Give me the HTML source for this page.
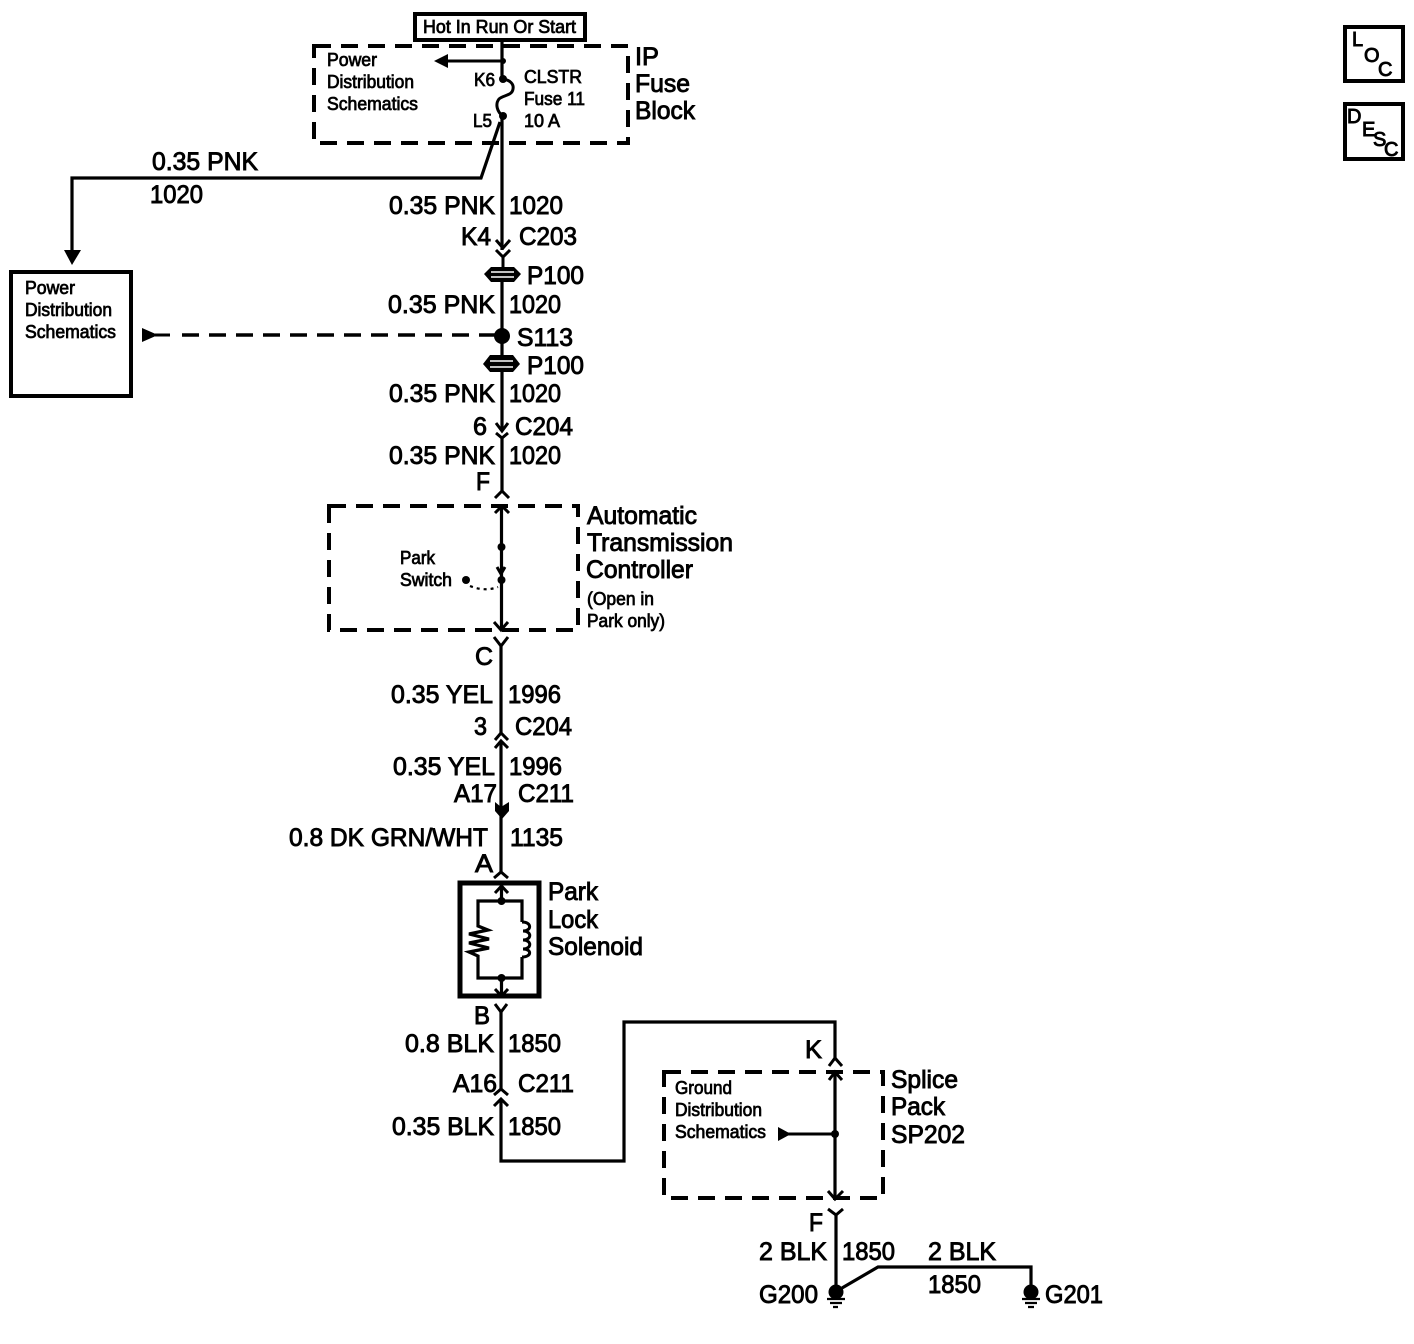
<!DOCTYPE html>
<html><head><meta charset="utf-8"><style>
html,body{margin:0;padding:0;background:#fff}
svg{display:block}
text{font-family:"Liberation Sans",sans-serif;fill:#000;stroke:#000}
.b{font-size:25px;stroke-width:.9}
.s{font-size:18px;stroke-width:.75}
.m{font-size:20px;stroke-width:.9}
.l{fill:none;stroke:#000;stroke-width:3.2;stroke-linejoin:miter}
.t{fill:none;stroke:#000;stroke-width:3}
.d{fill:none;stroke:#000;stroke-width:4;stroke-dasharray:17 10}
.f{fill:#000;stroke:none}
</style></head><body>
<svg width="1414" height="1344" viewBox="0 0 1414 1344" xmlns="http://www.w3.org/2000/svg">
<!-- boxes -->
<rect x="415" y="14" width="170" height="26" fill="none" stroke="#000" stroke-width="4"/>
<rect x="314" y="46" width="314" height="97" class="d"/>
<rect x="11" y="272" width="120" height="124" fill="none" stroke="#000" stroke-width="4"/>
<rect x="329" y="506" width="249" height="124" class="d"/>
<rect x="460" y="883" width="79" height="113" fill="none" stroke="#000" stroke-width="5"/>
<rect x="664" y="1072" width="219" height="126" class="d"/>
<rect x="1345" y="27" width="58" height="54" fill="none" stroke="#000" stroke-width="4"/>
<rect x="1345" y="104" width="58" height="55" fill="none" stroke="#000" stroke-width="4"/>

<!-- top fuse -->
<path class="l" d="M502 40V78"/>
<path class="t" d="M502 61H445"/>
<circle class="f" cx="503" cy="61" r="3"/>
<path class="f" d="M434 61L448 54V68Z"/>
<circle class="f" cx="503" cy="79" r="4"/>
<circle class="f" cx="503" cy="116" r="4"/>
<path class="t" d="M503 79C510 80 514 84 513 89C512 96 503 95 499 99C495 104 497 112 503 116"/>
<path class="l" d="M502 116V250"/>
<path class="l" d="M500 122L481 178H72V254"/>
<path class="f" d="M64 250H81L72 265Z"/>

<!-- C203 -->
<path class="t" d="M496 240L503 248L510 240M496 250L503 257L510 250M503 257V268"/>
<!-- P100 #1 -->
<path class="f" d="M484 274L491 267H514L521 274L514 282H491Z"/>
<path d="M491 272H514M491 277H514" stroke="#fff" stroke-width="1.5"/>
<path class="l" d="M502 282V355"/>
<circle class="f" cx="502" cy="336" r="8"/>
<path class="d" style="stroke-width:3.5;stroke-dasharray:17 10" d="M496 335H172"/>
<path class="t" d="M170 335H155"/>
<path class="f" d="M142 328L158 335L142 342Z"/>
<!-- P100 #2 -->
<path class="f" d="M483 364L490 355H513L520 364L513 372H490Z"/>
<path d="M490 361H513M490 367H513" stroke="#fff" stroke-width="1.5"/>
<path class="l" d="M502 372V431"/>
<!-- C204 pin 6 -->
<path class="t" d="M496 423L502 431L508 423M496 433L502 438L508 433"/>
<path class="l" d="M502 438V491"/>
<path class="t" d="M495 498L502 491L509 498"/>

<!-- ATC -->
<path class="t" d="M495 513L502 506L509 513"/>
<path class="l" d="M501.500 507V628"/>
<circle class="f" cx="501.500" cy="547" r="4"/>
<circle class="f" cx="501.500" cy="580" r="4"/>
<path class="t" d="M497 567L501 574L505 567"/>
<path class="t" d="M494 622L501 630L508 622"/>
<circle class="f" cx="466" cy="580" r="4"/>
<path d="M470 586Q485 592 498 587" fill="none" stroke="#000" stroke-width="2.200" stroke-dasharray="3 4"/>

<path class="t" d="M494 637L501 646L508 637"/>
<path class="l" d="M501 646V733"/>
<path class="t" d="M495 740L501 733L508 740M495 748L501 741L508 748"/>
<path class="l" d="M501 741V872"/>
<path class="f" d="M495 802L501 807L509 802V811L502 819L495 811Z"/>
<path class="t" d="M494 878L501 872L508 878"/>

<!-- solenoid -->
<path class="t" d="M495 893L501.500 886L508 893"/>
<path class="l" d="M501.500 886V901"/>
<circle class="f" cx="501.500" cy="901" r="4"/>
<circle class="f" cx="501.500" cy="978" r="4"/>
<path class="l" d="M501.500 978V996"/>
<path class="t" d="M495 989L501.500 996L508 989"/>
<path class="l" d="M522 922V901H478V926L488 930L469 934L489 939L469 943L489 948L469 952L478 956V978H522V957"/>
<path class="t" d="M522 922C532 922 532 931 523 931C532 931 532 940 523 940C532 940 532 949 523 949C532 949 532 957 522 957"/>

<!-- lower -->
<path class="t" d="M495 1004L501 1012L507 1004"/>
<path class="l" d="M501 1012V1089"/>
<path class="t" d="M494 1095L501 1089L508 1095M494 1106L501 1099L508 1106"/>
<path class="l" d="M501 1099V1161H624V1022H835V1058"/>
<path class="t" d="M829 1066L835 1058L842 1066M829 1080L835 1072L842 1080"/>
<path class="l" d="M835 1073V1198"/>
<circle class="f" cx="835" cy="1134" r="4"/>
<path class="t" d="M835 1134H788"/>
<path class="f" d="M778 1127L791 1134L778 1141Z"/>
<path class="t" d="M828 1191L835 1199L843 1191M828 1209L836 1215L843 1209"/>
<path class="l" d="M836 1215V1286"/>
<path class="l" d="M842 1288L878 1267H1031V1286"/>
<!-- grounds -->
<circle class="f" cx="836" cy="1292" r="7.500"/>
<path d="M827 1299H845M830 1303H842M833 1307H838" stroke="#000" stroke-width="2.200" fill="none"/>
<circle class="f" cx="1031" cy="1292" r="7.500"/>
<path d="M1022 1299H1040M1025 1303H1037M1028 1307H1034" stroke="#000" stroke-width="2.200" fill="none"/>

<!-- small text -->
<text class="s" x="423" y="33" textLength="153" lengthAdjust="spacingAndGlyphs">Hot In Run Or Start</text>
<text class="s" x="327" y="66" textLength="50" lengthAdjust="spacingAndGlyphs">Power</text>
<text class="s" x="327" y="88" textLength="87" lengthAdjust="spacingAndGlyphs">Distribution</text>
<text class="s" x="327" y="110" textLength="91" lengthAdjust="spacingAndGlyphs">Schematics</text>
<text class="s" x="474" y="86" textLength="21" lengthAdjust="spacingAndGlyphs">K6</text>
<text class="s" x="473" y="127" textLength="19" lengthAdjust="spacingAndGlyphs">L5</text>
<text class="s" x="524" y="83" textLength="58" lengthAdjust="spacingAndGlyphs">CLSTR</text>
<text class="s" x="524" y="105" textLength="61" lengthAdjust="spacingAndGlyphs">Fuse 11</text>
<text class="s" x="524" y="127" textLength="36" lengthAdjust="spacingAndGlyphs">10 A</text>
<text class="s" x="25" y="294" textLength="50" lengthAdjust="spacingAndGlyphs">Power</text>
<text class="s" x="25" y="316" textLength="87" lengthAdjust="spacingAndGlyphs">Distribution</text>
<text class="s" x="25" y="338" textLength="91" lengthAdjust="spacingAndGlyphs">Schematics</text>
<text class="s" x="400" y="564" textLength="35" lengthAdjust="spacingAndGlyphs">Park</text>
<text class="s" x="400" y="586" textLength="52" lengthAdjust="spacingAndGlyphs">Switch</text>
<text class="s" x="587" y="605" textLength="67" lengthAdjust="spacingAndGlyphs">(Open in</text>
<text class="s" x="587" y="627" textLength="78" lengthAdjust="spacingAndGlyphs">Park only)</text>
<text class="s" x="675" y="1094" textLength="57" lengthAdjust="spacingAndGlyphs">Ground</text>
<text class="s" x="675" y="1116" textLength="87" lengthAdjust="spacingAndGlyphs">Distribution</text>
<text class="s" x="675" y="1138" textLength="91" lengthAdjust="spacingAndGlyphs">Schematics</text>
<text class="m" x="1352" y="46">L</text>
<text class="m" x="1364" y="62">O</text>
<text class="m" x="1378" y="76">C</text>
<text class="m" x="1347" y="123">D</text>
<text class="m" x="1362" y="136">E</text>
<text class="m" x="1373" y="146">S</text>
<text class="m" x="1384" y="156">C</text>

<!-- large text -->
<text class="b" x="635" y="65" textLength="24" lengthAdjust="spacingAndGlyphs">IP</text>
<text class="b" x="635" y="92" textLength="55" lengthAdjust="spacingAndGlyphs">Fuse</text>
<text class="b" x="635" y="119" textLength="60" lengthAdjust="spacingAndGlyphs">Block</text>
<text class="b" x="152" y="170" textLength="106" lengthAdjust="spacingAndGlyphs">0.35 PNK</text>
<text class="b" x="150" y="203" textLength="53" lengthAdjust="spacingAndGlyphs">1020</text>
<text class="b" x="389" y="214" textLength="106" lengthAdjust="spacingAndGlyphs">0.35 PNK</text>
<text class="b" x="509" y="214" textLength="54" lengthAdjust="spacingAndGlyphs">1020</text>
<text class="b" x="461" y="245" textLength="30" lengthAdjust="spacingAndGlyphs">K4</text>
<text class="b" x="519" y="245" textLength="58" lengthAdjust="spacingAndGlyphs">C203</text>
<text class="b" x="527" y="284" textLength="57" lengthAdjust="spacingAndGlyphs">P100</text>
<text class="b" x="388" y="313" textLength="107" lengthAdjust="spacingAndGlyphs">0.35 PNK</text>
<text class="b" x="509" y="313" textLength="52" lengthAdjust="spacingAndGlyphs">1020</text>
<text class="b" x="517" y="346" textLength="56" lengthAdjust="spacingAndGlyphs">S113</text>
<text class="b" x="527" y="374" textLength="57" lengthAdjust="spacingAndGlyphs">P100</text>
<text class="b" x="389" y="402" textLength="106" lengthAdjust="spacingAndGlyphs">0.35 PNK</text>
<text class="b" x="509" y="402" textLength="52" lengthAdjust="spacingAndGlyphs">1020</text>
<text class="b" x="473" y="435" textLength="14" lengthAdjust="spacingAndGlyphs">6</text>
<text class="b" x="515" y="435" textLength="58" lengthAdjust="spacingAndGlyphs">C204</text>
<text class="b" x="389" y="464" textLength="106" lengthAdjust="spacingAndGlyphs">0.35 PNK</text>
<text class="b" x="509" y="464" textLength="52" lengthAdjust="spacingAndGlyphs">1020</text>
<text class="b" x="476" y="490" textLength="14" lengthAdjust="spacingAndGlyphs">F</text>
<text class="b" x="587" y="524" textLength="110" lengthAdjust="spacingAndGlyphs">Automatic</text>
<text class="b" x="587" y="551" textLength="146" lengthAdjust="spacingAndGlyphs">Transmission</text>
<text class="b" x="586" y="578" textLength="107" lengthAdjust="spacingAndGlyphs">Controller</text>
<text class="b" x="475" y="665" textLength="18" lengthAdjust="spacingAndGlyphs">C</text>
<text class="b" x="391" y="703" textLength="102" lengthAdjust="spacingAndGlyphs">0.35 YEL</text>
<text class="b" x="508" y="703" textLength="53" lengthAdjust="spacingAndGlyphs">1996</text>
<text class="b" x="474" y="735" textLength="13" lengthAdjust="spacingAndGlyphs">3</text>
<text class="b" x="515" y="735" textLength="57" lengthAdjust="spacingAndGlyphs">C204</text>
<text class="b" x="393" y="775" textLength="102" lengthAdjust="spacingAndGlyphs">0.35 YEL</text>
<text class="b" x="509" y="775" textLength="53" lengthAdjust="spacingAndGlyphs">1996</text>
<text class="b" x="454" y="802" textLength="43" lengthAdjust="spacingAndGlyphs">A17</text>
<text class="b" x="518" y="802" textLength="56" lengthAdjust="spacingAndGlyphs">C211</text>
<text class="b" x="289" y="846" textLength="199" lengthAdjust="spacingAndGlyphs">0.8 DK GRN/WHT</text>
<text class="b" x="510" y="846" textLength="53" lengthAdjust="spacingAndGlyphs">1135</text>
<text class="b" x="475" y="872" textLength="18" lengthAdjust="spacingAndGlyphs">A</text>
<text class="b" x="548" y="900" textLength="50" lengthAdjust="spacingAndGlyphs">Park</text>
<text class="b" x="548" y="928" textLength="50" lengthAdjust="spacingAndGlyphs">Lock</text>
<text class="b" x="548" y="955" textLength="95" lengthAdjust="spacingAndGlyphs">Solenoid</text>
<text class="b" x="474" y="1024" textLength="16" lengthAdjust="spacingAndGlyphs">B</text>
<text class="b" x="405" y="1052" textLength="89" lengthAdjust="spacingAndGlyphs">0.8 BLK</text>
<text class="b" x="508" y="1052" textLength="53" lengthAdjust="spacingAndGlyphs">1850</text>
<text class="b" x="453" y="1092" textLength="44" lengthAdjust="spacingAndGlyphs">A16</text>
<text class="b" x="518" y="1092" textLength="56" lengthAdjust="spacingAndGlyphs">C211</text>
<text class="b" x="392" y="1135" textLength="102" lengthAdjust="spacingAndGlyphs">0.35 BLK</text>
<text class="b" x="508" y="1135" textLength="53" lengthAdjust="spacingAndGlyphs">1850</text>
<text class="b" x="805" y="1058" textLength="17" lengthAdjust="spacingAndGlyphs">K</text>
<text class="b" x="891" y="1088" textLength="67" lengthAdjust="spacingAndGlyphs">Splice</text>
<text class="b" x="891" y="1115" textLength="54" lengthAdjust="spacingAndGlyphs">Pack</text>
<text class="b" x="891" y="1143" textLength="74" lengthAdjust="spacingAndGlyphs">SP202</text>
<text class="b" x="809" y="1231" textLength="14" lengthAdjust="spacingAndGlyphs">F</text>
<text class="b" x="759" y="1260" textLength="68" lengthAdjust="spacingAndGlyphs">2 BLK</text>
<text class="b" x="842" y="1260" textLength="53" lengthAdjust="spacingAndGlyphs">1850</text>
<text class="b" x="928" y="1260" textLength="68" lengthAdjust="spacingAndGlyphs">2 BLK</text>
<text class="b" x="928" y="1293" textLength="53" lengthAdjust="spacingAndGlyphs">1850</text>
<text class="b" x="759" y="1303" textLength="59" lengthAdjust="spacingAndGlyphs">G200</text>
<text class="b" x="1045" y="1303" textLength="58" lengthAdjust="spacingAndGlyphs">G201</text>
</svg>
</body></html>
